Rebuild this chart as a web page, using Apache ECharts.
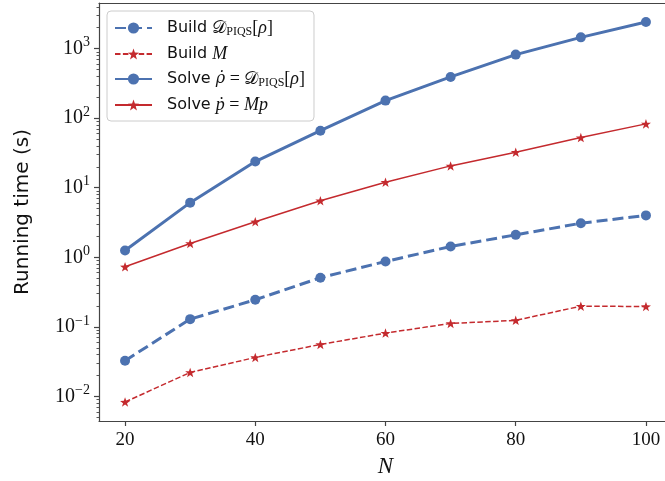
<!DOCTYPE html>
<html>
<head>
<meta charset="utf-8">
<script src="https://cdn.jsdelivr.net/npm/echarts@6/dist/echarts.min.js"></script>
<style>html,body{margin:0;padding:0;background:#fff;overflow:hidden}#c{width:665px;height:481px}</style>
</head>
<body>
<div id="c"></div>
<script>
// ---- data ----
const N = [20, 30, 40, 50, 60, 70, 80, 90, 100];
const buildD = [0.0326, 0.129, 0.245, 0.508, 0.87, 1.43, 2.1, 3.09, 4.0];
const buildM = [0.0083, 0.0221, 0.0363, 0.0558, 0.0812, 0.112, 0.124, 0.198, 0.196];
const solveRho = [1.25, 6.1, 23.8, 66, 179, 392, 820, 1453, 2417];
const solveP = [0.73, 1.58, 3.24, 6.5, 12.0, 20.6, 32.4, 52.6, 82.8];
const xTicks = [20, 40, 60, 80, 100];
const yTicks = [0.01, 0.1, 1, 10, 100, 1000];
const seriesNames = ['Build D', 'Build M', 'Solve rho', 'Solve p'];

const yMin = Math.pow(10, -2.354), yMax = Math.pow(10, 3.656);
const minorTicks = [];
for (let e = -3; e <= 3; e++) {
  for (let k = 2; k <= 9; k++) {
    const v = k * Math.pow(10, e);
    if (v > yMin && v < yMax) minorTicks.push(v);
  }
}

const BLUE = '#4C72B0', RED = '#C42A2E', SPINE = '#444';
const STAR = 'path://M0,-10 L2.35,-3.24 L9.51,-3.09 L3.8,1.24 L5.88,8.09 L0,4 L-5.88,8.09 L-3.8,1.24 L-9.51,-3.09 L-2.35,-3.24 Z';
const SERIF = '"Liberation Serif", "DejaVu Serif", serif';
const DSERIF = '"DejaVu Serif", serif';
const SANS = '"DejaVu Sans", sans-serif';

function pairs(ys) { return N.map((x, i) => [x, ys[i]]); }

const legendLabels = {
  'Build D': '{s|Build }{m|𝒟}{sub|PIQS}{m|[}{mi|ρ}{m|]}',
  'Build M': '{s|Build }{mi|M}',
  'Solve rho': '{s|Solve }{md|ρ̇}{m| = 𝒟}{sub|PIQS}{m|[}{mi|ρ}{m|]}',
  'Solve p': '{s|Solve }{mi|ṗ}{m| = }{mi|Mp}'
};

const gridBox = {left: 99, right: -7, top: 3, bottom: 60, outerBoundsMode: 'none', containLabel: false, show: false};

const chart = echarts.init(document.getElementById('c'), null, {renderer: 'canvas'});
chart.setOption({
  animation: false,
  grid: [Object.assign({}, gridBox), Object.assign({}, gridBox)],
  graphic: [{type: 'rect', left: 655, top: 6, shape: {width: 10, height: 412}, style: {fill: '#fff'}, zlevel: 5, z: 100, silent: true}],
  legend: {
    orient: 'vertical', left: 107, top: 11,
    padding: [8, 9, 7, 7],
    itemWidth: 37, itemHeight: 14, itemGap: 7,
    backgroundColor: 'rgba(255,255,255,0.85)',
    borderColor: '#cccccc', borderWidth: 1, borderRadius: 4,
    data: seriesNames,
    formatter: n => legendLabels[n],
    textStyle: {
      padding: [0, 0, 0, 10],
      rich: {
        s: {fontFamily: SANS, fontSize: 16, color: '#111'},
        m: {fontFamily: SERIF, fontSize: 18, color: '#111'},
        mi: {fontFamily: SERIF, fontSize: 18, fontStyle: 'italic', color: '#111'},
        md: {fontFamily: DSERIF, fontSize: 16, fontStyle: 'italic', color: '#111'},
        sub: {fontFamily: SERIF, fontSize: 12, color: '#111', padding: [8, 0, 0, 0]}
      }
    }
  },
  xAxis: [{
    gridIndex: 0, type: 'value', min: 16, max: 104,
    name: 'N', nameLocation: 'middle', nameGap: 34,
    nameTextStyle: {fontFamily: SERIF, fontStyle: 'italic', fontSize: 23, color: '#111'},
    axisLine: {show: true, lineStyle: {color: SPINE, width: 1.2}},
    axisTick: {show: true, length: 5, lineStyle: {color: SPINE, width: 1.2}, customValues: xTicks},
    axisLabel: {fontFamily: SERIF, fontSize: 19, color: '#111', margin: 10, customValues: xTicks},
    splitLine: {show: false}
  }, {
    gridIndex: 1, type: 'value', min: 16, max: 104, position: 'top',
    axisLine: {show: true, lineStyle: {color: SPINE, width: 1.2}},
    axisTick: {show: false}, axisLabel: {show: false}, splitLine: {show: false}
  }],
  yAxis: [{
    gridIndex: 0, type: 'log', logBase: 10, min: yMin, max: yMax, position: 'left',
    name: 'Running time (s)', nameLocation: 'middle', nameGap: 66, nameRotate: 90,
    nameTextStyle: {fontFamily: SANS, fontSize: 20, color: '#111'},
    axisLine: {show: true, lineStyle: {color: SPINE, width: 1.2}},
    axisTick: {show: true, length: 5, lineStyle: {color: SPINE, width: 1.2}, customValues: yTicks},
    axisLabel: {
      margin: 9, customValues: yTicks,
      formatter: v => {
        const e = Math.round(Math.log10(v));
        return '{b|10}{e|' + (e < 0 ? '−' + (-e) : e) + '}';
      },
      rich: {
        b: {fontFamily: SERIF, fontSize: 20, color: '#111'},
        e: {fontFamily: SERIF, fontSize: 14, color: '#111', padding: [0, 0, 12, 0]}
      }
    },
    splitLine: {show: false}
  }, {
    gridIndex: 1, type: 'log', logBase: 10, min: yMin, max: yMax, position: 'left',
    axisLine: {show: false},
    axisTick: {show: true, length: 2.5, lineStyle: {color: SPINE, width: 0.9}, customValues: minorTicks},
    axisLabel: {show: false},
    splitLine: {show: false}
  }],
  series: [
    {name: seriesNames[0], type: 'line', data: pairs(buildD), symbol: 'circle', symbolSize: 10,
     itemStyle: {color: BLUE}, lineStyle: {color: BLUE, width: 3, type: [11, 5]}},
    {name: seriesNames[1], type: 'line', data: pairs(buildM), symbol: STAR, symbolSize: 10, symbolKeepAspect: true,
     itemStyle: {color: RED}, lineStyle: {color: RED, width: 1.5, type: [5.5, 2.4]}},
    {name: seriesNames[2], type: 'line', data: pairs(solveRho), symbol: 'circle', symbolSize: 10,
     itemStyle: {color: BLUE}, lineStyle: {color: BLUE, width: 3}},
    {name: seriesNames[3], type: 'line', data: pairs(solveP), symbol: STAR, symbolSize: 10, symbolKeepAspect: true,
     itemStyle: {color: RED}, lineStyle: {color: RED, width: 1.5}}
  ]
});
</script>
</body>
</html>
